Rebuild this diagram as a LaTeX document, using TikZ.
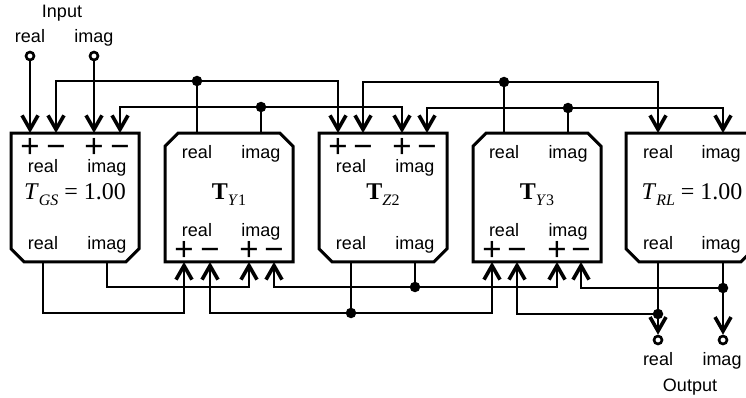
\documentclass[tikz,border=0pt]{standalone}
\usepackage{fontspec}
\setmainfont{Liberation Sans}
\newfontfamily\gainfont{Liberation Serif}
\usetikzlibrary{arrows.meta}
\newcommand{\subs}[1]{\raisebox{-0.25em}{\fontsize{16}{16}\selectfont #1}}
\newcommand{\lowcut}[1]{\draw[frame] (#1.north west) -- (#1.north east) -- ([yshift=13pt]#1.south east) -- ([xshift=-13pt]#1.south east) -- ([xshift=13pt]#1.south west) -- ([yshift=13pt]#1.south west) -- cycle;}
\newcommand{\highcut}[1]{\draw[frame] ([yshift=-13pt]#1.north west) -- ([xshift=13pt]#1.north west) -- ([xshift=-13pt]#1.north east) -- ([yshift=-13pt]#1.north east) -- (#1.south east) -- (#1.south west) -- cycle;}
\tikzset{
	wire/.style={line width=2.8pt},
	arr/.style={wire,-{Straight Barb[length=14pt,width=16pt,line width=3.6pt]}},
	frame/.style={line width=3pt},
	block/.style={rectangle,minimum width=128pt,minimum height=128.5pt,inner sep=0pt,outer sep=0pt},
	lab/.style={inner sep=0pt,anchor=base,font=\fontsize{18}{18}\selectfont},
	sgn/.style={inner sep=0pt,anchor=base,font=\fontsize{33}{33}\selectfont},
	gain/.style={inner sep=0pt,anchor=base,font=\gainfont\fontsize{24}{24}\selectfont},
	dot/.style={circle,fill=black,inner sep=0pt,minimum size=10.5pt},
	term/.style={circle,draw,fill=white,line width=2.6pt,inner sep=0pt,minimum size=8pt},
}
\begin{document}
\begin{tikzpicture}[x=1pt,y=-1pt]
	\useasboundingbox (0,0) rectangle (746,398);
	% blocks
	\node[block] (GS) at (75,197.5) {};
	\node[block] (Y1) at (229,197.5) {};
	\node[block] (Z2) at (383,197.5) {};
	\node[block] (Y3) at (537,197.5) {};
	\node[block] (RL) at (690,197.5) {};
	\lowcut{GS}
	\highcut{Y1}
	\lowcut{Z2}
	\highcut{Y3}
	\lowcut{RL}
	% ports
	\coordinate (GSa) at (30,133); \coordinate (GSb) at (56,133);
	\coordinate (GSc) at (94,133); \coordinate (GSd) at (120,133);
	\coordinate (GSr) at (43,262); \coordinate (GSi) at (107,262);
	\coordinate (GSrb) at (43,313); \coordinate (GSib) at (107,287);
	\coordinate (Y1r) at (197,133); \coordinate (Y1i) at (261,133);
	\coordinate (Y1a) at (184,262); \coordinate (Y1b) at (210,262);
	\coordinate (Y1c) at (249,262); \coordinate (Y1d) at (274,262);
	\coordinate (Z2a) at (338,133); \coordinate (Z2b) at (363,133);
	\coordinate (Z2c) at (402,133); \coordinate (Z2d) at (427,133);
	\coordinate (Z2r) at (351,262); \coordinate (Z2i) at (415,262);
	\coordinate (Y3r) at (504,133); \coordinate (Y3i) at (568,133);
	\coordinate (Y3a) at (492,262); \coordinate (Y3b) at (517,262);
	\coordinate (Y3c) at (557,262); \coordinate (Y3d) at (581,262);
	\coordinate (RLa) at (658,133); \coordinate (RLb) at (723,133);
	\coordinate (RLr) at (658,262); \coordinate (RLi) at (723,262);
	% junctions and terminals
	\node[dot] (J1) at (197,81) {};
	\node[dot] (J2) at (261,107) {};
	\node[dot] (J3) at (504,82) {};
	\node[dot] (J4) at (568,108) {};
	\node[dot] (J5) at (351,313) {};
	\node[dot] (J6) at (415,287) {};
	\node[dot] (J7) at (658,314) {};
	\node[dot] (J8) at (723,288) {};
	\node[term] (InR) at (30,56) {};
	\node[term] (InI) at (94,56) {};
	\node[term] (OutR) at (658,340) {};
	\node[term] (OutI) at (723,340) {};
	% top wiring
	\draw[arr] (InR) -- (GSa);
	\draw[arr] (InI) -- (GSc);
	\draw[wire] (Y1r) -- (J1);
	\draw[wire] (Y1i) -- (J2);
	\draw[arr] (J1) -| (GSb);
	\draw[arr] (J1) -| (Z2a);
	\draw[arr] (J2) -| (GSd);
	\draw[arr] (J2) -| (Z2c);
	\draw[wire] (Y3r) -- (J3);
	\draw[wire] (Y3i) -- (J4);
	\draw[arr] (J3) -| (Z2b);
	\draw[arr] (J3) -| (RLa);
	\draw[arr] (J4) -| (Z2d);
	\draw[arr] (J4) -| (RLb);
	% bottom wiring
	\draw[arr] (GSr) -- (GSrb) -| (Y1a);
	\draw[arr] (GSi) -- (GSib) -| (Y1c);
	\draw[wire] (Z2r) -- (J5);
	\draw[wire] (Z2i) -- (J6);
	\draw[arr] (J5) -| (Y1b);
	\draw[arr] (J5) -| (Y3a);
	\draw[arr] (J6) -| (Y1d);
	\draw[arr] (J6) -| (Y3c);
	\draw[wire] (RLr) -- (J7);
	\draw[wire] (RLi) -- (J8);
	\draw[arr] (J7) -| (Y3b);
	\draw[arr] (J8) -| (Y3d);
	\draw[arr] (J7) -- (OutR);
	\draw[arr] (J8) -- (OutI);
	% text outside
	\node[lab] (tin) at (62,17.5) {Input};
	\node[lab] (tinr) at (30,43) {real};
	\node[lab] (tini) at (94,43) {imag};
	\node[lab] (tout) at (690,391.5) {Output};
	\node[lab] (toutr) at (658,365) {real};
	\node[lab] (touti) at (722,365) {imag};
	% GS block
	\node[sgn] (s1) at (30,157.5) {+};
	\node[sgn] (s2) at (56,157.5) {−};
	\node[sgn] (s3) at (94,157.5) {+};
	\node[sgn] (s4) at (120,157.5) {−};
	\node[lab] (l1) at (43,172) {real};
	\node[lab] (l2) at (107,172) {imag};
	\node[gain] (g1) at (75,199) {\textit{T}\subs{\textit{GS}} = 1.00};
	\node[lab] (l3) at (43,249) {real};
	\node[lab] (l4) at (107,249) {imag};
	% Y1 block
	\node[lab] (l5) at (197,159) {real};
	\node[lab] (l6) at (261,159) {imag};
	\node[gain] (g2) at (229,199) {\textbf{T}\subs{\textit{Y}1}};
	\node[lab] (l7) at (197,236) {real};
	\node[lab] (l8) at (261,236) {imag};
	\node[sgn] (s5) at (184,260.5) {+};
	\node[sgn] (s6) at (210,260.5) {−};
	\node[sgn] (s7) at (249,260.5) {+};
	\node[sgn] (s8) at (274,260.5) {−};
	% Z2 block
	\node[sgn] (s9) at (338,157.5) {+};
	\node[sgn] (s10) at (363,157.5) {−};
	\node[sgn] (s11) at (402,157.5) {+};
	\node[sgn] (s12) at (427,157.5) {−};
	\node[lab] (l9) at (351,172) {real};
	\node[lab] (l10) at (415,172) {imag};
	\node[gain] (g3) at (383,199) {\textbf{T}\subs{\textit{Z}2}};
	\node[lab] (l11) at (351,249) {real};
	\node[lab] (l12) at (415,249) {imag};
	% Y3 block
	\node[lab] (l13) at (504,159) {real};
	\node[lab] (l14) at (568,159) {imag};
	\node[gain] (g4) at (537,199) {\textbf{T}\subs{\textit{Y}3}};
	\node[lab] (l15) at (504,236) {real};
	\node[lab] (l16) at (568,236) {imag};
	\node[sgn] (s13) at (492,260.5) {+};
	\node[sgn] (s14) at (517,260.5) {−};
	\node[sgn] (s15) at (557,260.5) {+};
	\node[sgn] (s16) at (581,260.5) {−};
	% RL block
	\node[lab] (l17) at (658,159) {real};
	\node[lab] (l18) at (721,159) {imag};
	\node[gain] (g5) at (692,199) {\textit{T}\subs{\textit{RL}} = 1.00};
	\node[lab] (l19) at (658,249) {real};
	\node[lab] (l20) at (721,249) {imag};
\end{tikzpicture}
\end{document}
